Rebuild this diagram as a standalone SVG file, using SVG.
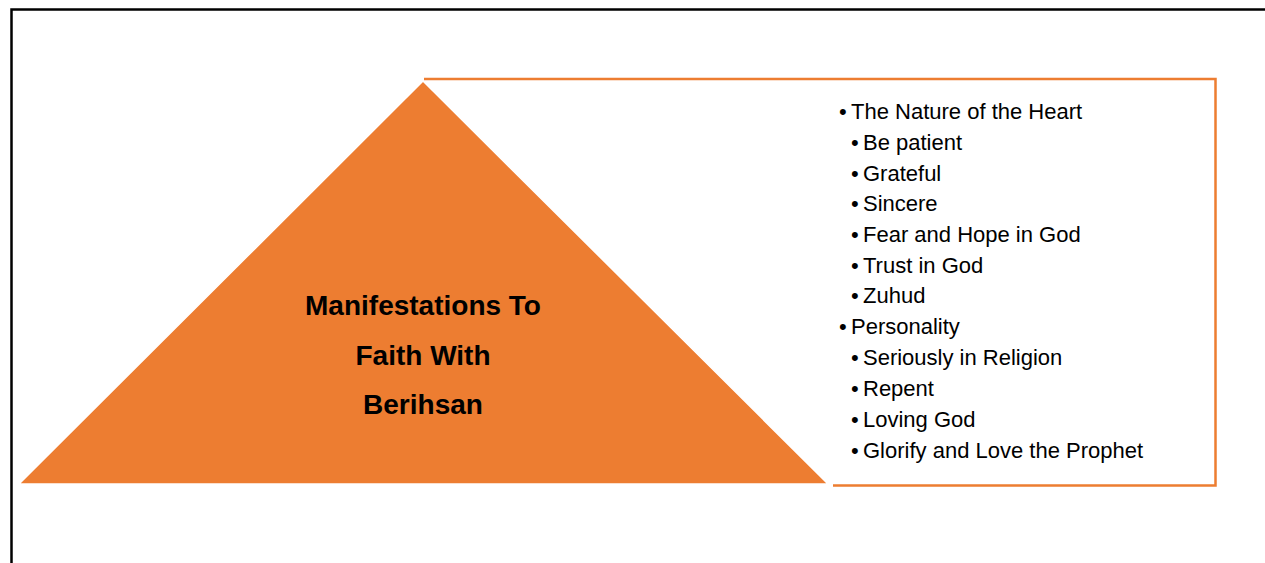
<svg xmlns="http://www.w3.org/2000/svg" width="1265" height="563" viewBox="0 0 1265 563">
<style>
.lst{font-family:"Liberation Sans",Arial,sans-serif;font-size:22px;fill:#000}
.b{font-size:22px}
.ttl{font-family:"Liberation Sans",Arial,sans-serif;font-size:28px;font-weight:bold;fill:#000;text-anchor:middle}
</style>
<rect x="0" y="0" width="1265" height="563" fill="#fff"/>
<path d="M11.5,570 V9.5 H1270" fill="none" stroke="#000" stroke-width="2.5"/>
<g id="box">
<path d="M424,79 H1215.5 V485.5 H833" fill="none" stroke="#ED7D31" stroke-width="2.5"/>
</g>
<g id="triangle">
<polygon points="423,81 828,484 19,484" fill="#ED7D31" stroke="#fff" stroke-width="1.5"/>
<text class="ttl" x="423" y="315">Manifestations To</text>
<text class="ttl" x="423" y="365">Faith With</text>
<text class="ttl" x="423" y="414">Berihsan</text>
</g>
<g id="list" class="lst">
<text x="839" y="119"><tspan class="b">•</tspan><tspan x="851">The Nature of the Heart</tspan></text>
<text x="851" y="150"><tspan class="b">•</tspan><tspan x="863">Be patient</tspan></text>
<text x="851" y="181"><tspan class="b">•</tspan><tspan x="863">Grateful</tspan></text>
<text x="851" y="211"><tspan class="b">•</tspan><tspan x="863">Sincere</tspan></text>
<text x="851" y="242"><tspan class="b">•</tspan><tspan x="863">Fear and Hope in God</tspan></text>
<text x="851" y="273"><tspan class="b">•</tspan><tspan x="863">Trust in God</tspan></text>
<text x="851" y="303"><tspan class="b">•</tspan><tspan x="863">Zuhud</tspan></text>
<text x="839" y="334"><tspan class="b">•</tspan><tspan x="851">Personality</tspan></text>
<text x="851" y="365"><tspan class="b">•</tspan><tspan x="863">Seriously in Religion</tspan></text>
<text x="851" y="396"><tspan class="b">•</tspan><tspan x="863">Repent</tspan></text>
<text x="851" y="427"><tspan class="b">•</tspan><tspan x="863">Loving God</tspan></text>
<text x="851" y="458"><tspan class="b">•</tspan><tspan x="863">Glorify and Love the Prophet</tspan></text>
</g>
</svg>
